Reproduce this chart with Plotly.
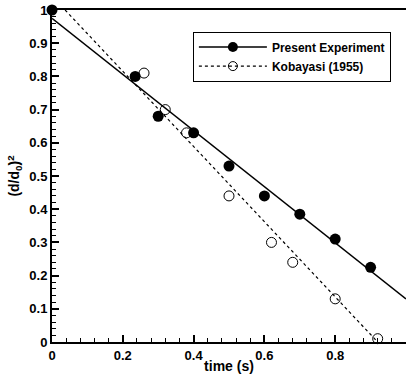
import plotly.graph_objects as go

# Present Experiment (filled circles)
present_t = [0.0, 0.235, 0.30, 0.40, 0.50, 0.60, 0.70, 0.80, 0.90]
present_d2 = [1.0, 0.80, 0.68, 0.63, 0.53, 0.44, 0.385, 0.31, 0.225]
# Kobayasi (1955) (open circles)
koba_t = [0.26, 0.32, 0.38, 0.50, 0.62, 0.68, 0.80, 0.92]
koba_d2 = [0.81, 0.70, 0.63, 0.44, 0.30, 0.24, 0.13, 0.01]
# linear fits (endpoints)
present_fit_t = [0.0, 1.0]
present_fit_d2 = [0.975, 0.13]
koba_fit_t = [0.037, 0.92]
koba_fit_d2 = [1.0, 0.0]

xticks = [0, 0.2, 0.4, 0.6, 0.8]
xticklabels = ["0", "0.2", "0.4", "0.6", "0.8"]
yticks = [0, 0.1, 0.2, 0.3, 0.4, 0.5, 0.6, 0.7, 0.8, 0.9, 1.0]
yticklabels = ["0", "0.1", "0.2", "0.3", "0.4", "0.5", "0.6", "0.7", "0.8", "0.9", "1"]

font = "Liberation Sans, Arial, sans-serif"

fig = go.Figure()
fig.add_trace(go.Scatter(x=present_fit_t, y=present_fit_d2, mode="lines",
                         line=dict(color="black", width=1.5), showlegend=False))
fig.add_trace(go.Scatter(x=koba_fit_t, y=koba_fit_d2, mode="lines",
                         line=dict(color="black", width=1.2, dash="3px,3px"), showlegend=False))
fig.add_trace(go.Scatter(x=present_t, y=present_d2, mode="markers",
                         marker=dict(symbol="circle", size=11, color="black"),
                         showlegend=False, cliponaxis=False))
fig.add_trace(go.Scatter(x=koba_t, y=koba_d2, mode="markers",
                         marker=dict(symbol="circle-open", size=10, color="black", line=dict(width=1)),
                         showlegend=False, cliponaxis=False))
# legend entries
fig.add_trace(go.Scatter(x=[None], y=[None], mode="lines+markers", name="Present Experiment",
                         line=dict(color="black", width=1.5),
                         marker=dict(symbol="circle", size=10, color="black")))
fig.add_trace(go.Scatter(x=[None], y=[None], mode="lines+markers", name="Kobayasi (1955)",
                         line=dict(color="black", width=1.2, dash="3px,3px"),
                         marker=dict(symbol="circle-open", size=9, color="black", line=dict(width=1))))

fig.update_layout(
    width=406, height=374,
    margin=dict(l=52, r=0, t=10, b=32),
    paper_bgcolor="white", plot_bgcolor="white",
    font=dict(family=font, size=13, color="black"),
    showlegend=True,
    legend=dict(x=0.398, y=0.935, xanchor="left", yanchor="top",
                bordercolor="black", borderwidth=1, bgcolor="white",
                font=dict(family=font, size=12, color="black", weight="bold"),
                itemwidth=68, tracegroupgap=0),
    xaxis=dict(range=[0, 1], tickvals=xticks, ticktext=xticklabels,
               showgrid=False, zeroline=False, showline=True, linecolor="black", linewidth=2,
               mirror=True, ticks="inside", ticklen=7, tickwidth=2, tickcolor="black",
               tickfont=dict(family=font, size=13, weight="bold"),
               minor=dict(dtick=0.04, ticks="inside", ticklen=4, tickwidth=1, tickcolor="black", showgrid=False),
               title=dict(text="time (s)", font=dict(family=font, size=14, weight="bold"), standoff=0)),
    yaxis=dict(range=[0, 1], tickvals=yticks, ticktext=yticklabels,
               showgrid=False, zeroline=False, showline=True, linecolor="black", linewidth=2,
               ticks="inside", ticklen=7, tickwidth=2, tickcolor="black",
               tickfont=dict(family=font, size=13, weight="bold"),
               minor=dict(dtick=0.02, ticks="inside", ticklen=4, tickwidth=1, tickcolor="black", showgrid=False),
               title=dict(text="(d/d<sub>0</sub>)<sup>2</sup>", font=dict(family=font, size=14, weight="bold"), standoff=6)),
)
fig.write_html("out.html")
